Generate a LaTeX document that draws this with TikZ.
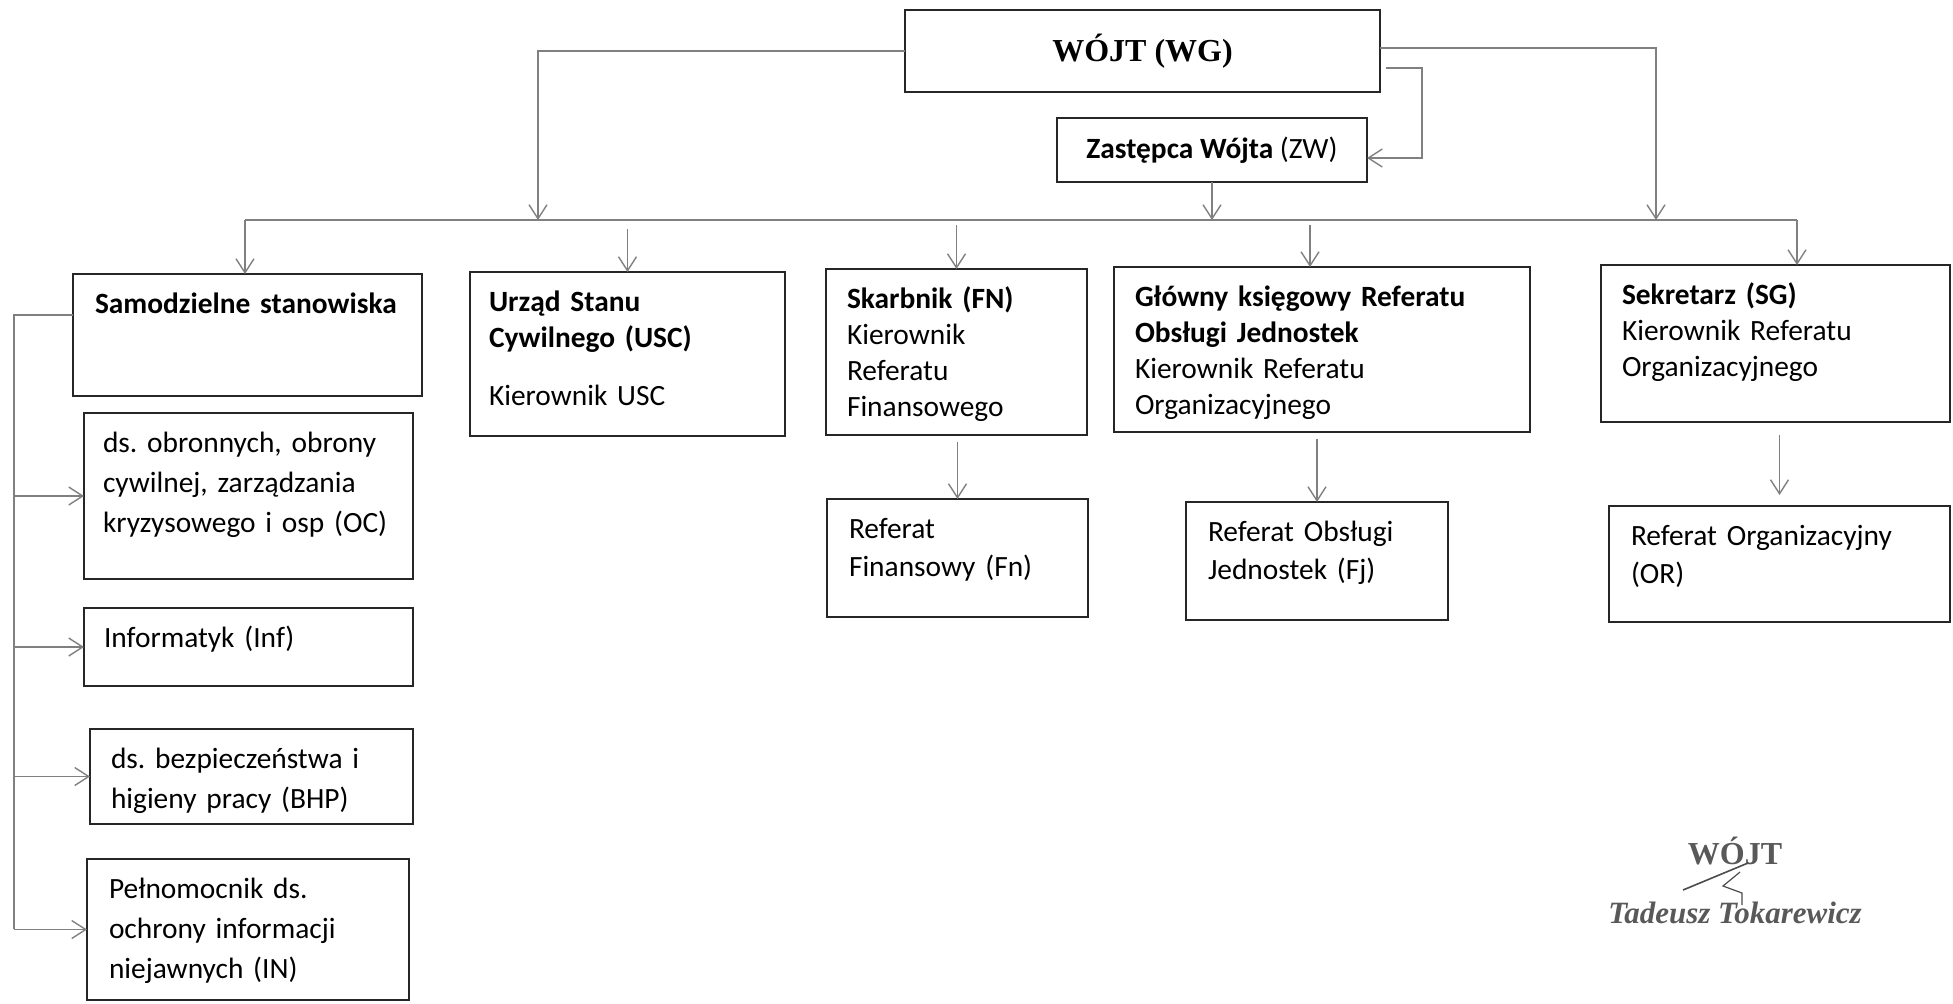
\documentclass[tikz,border=0pt]{standalone}
\usepackage{fontspec}
\setmainfont{Carlito}
\newfontfamily\serifbf{Liberation Serif}
\usetikzlibrary{arrows.meta, calc}

\begin{document}
\begin{tikzpicture}[
    x=0.5pt, y=-0.5pt, % grid of the scan, y pointing down
    % Styles
    head/.style={ % top boxes, text centred
        draw=black!85,
        line width=1.2pt,
        outer sep=0pt
    },
    unit/.style={ % org unit, text in the top left corner
        draw=black!85,
        line width=1.2pt,
        outer sep=0pt,
        anchor=north west,
        align=left,
        inner ysep=0pt,
        text height=19.5pt,
        font=\fontsize{14.7}{19}\selectfont
    },
    tight/.style={font=\fontsize{14.7}{18}\selectfont},
    loose/.style={font=\fontsize{14.7}{20}\selectfont},
    wire/.style={
        draw=black!50,
        line width=0.7pt
    },
    link/.style={ % open arrow
        wire,
        -{Straight Barb[length=7pt, width=9pt]}
    },
    sig/.style={
        text=black!65
    }
]
    \useasboundingbox (0,0) rectangle (1953,1003);

    % Head office
    \node[head, minimum width=237.5pt, minimum height=41pt, font=\serifbf\bfseries\fontsize{16}{19}\selectfont] (wg) at (1142.5,51) {\raisebox{2pt}{WÓJT (WG)}};
    \node[head, minimum width=155pt, minimum height=32pt, font=\fontsize{14.7}{18}\selectfont] (zw) at (1212,150) {\textbf{Zastępca Wójta} (ZW)};

    % Second row
    \node[unit, text width=152.5pt, inner xsep=11pt, text depth=41.5pt] (sam) at (73,274) {\textbf{Samodzielne~stanowiska}};
    \node[unit, tight, text width=138.5pt, inner xsep=9.5pt, text depth=62.5pt] (usc) at (470,272) {\textbf{Urząd Stanu}\\\textbf{Cywilnego (USC)}\\[11pt]Kierownik USC};
    \node[unit, tight, text width=109.5pt, inner xsep=10.5pt, text depth=63.5pt] (fn) at (826,269) {\textbf{Skarbnik (FN)}\\Kierownik\\Referatu\\Finansowego};
    \node[unit, tight, text width=187pt, inner xsep=10.5pt, text depth=63pt] (gk) at (1114,267) {\textbf{Główny~księgowy~Referatu}\\\textbf{Obsługi Jednostek}\\Kierownik Referatu\\Organizacyjnego};
    \node[unit, tight, text width=153.5pt, inner xsep=10.5pt, text depth=59pt] (sg) at (1601,265) {\textbf{Sekretarz (SG)}\\Kierownik Referatu\\Organizacyjnego};

    % Referaty
    \node[unit, text width=108.5pt, inner xsep=11pt, text depth=39.5pt] (fnref) at (827,499) {Referat\\Finansowy~(Fn)};
    \node[unit, text width=109pt, inner xsep=11pt, text depth=39.5pt] (fjref) at (1186,502) {Referat~Obsługi\\Jednostek (Fj)};
    \node[unit, text width=148.5pt, inner xsep=11pt, text depth=38.5pt] (orref) at (1609,506) {Referat~Organizacyjny\\(OR)};

    % Samodzielne stanowiska
    \node[unit, loose, text width=145.5pt, inner xsep=9.5pt, text depth=63.5pt] (oc) at (84,413) {ds.~obronnych,~obrony\\cywilnej,~zarządzania\\kryzysowego~i~osp~(OC)};
    \node[unit, text width=144.5pt, inner xsep=10pt, text depth=19.5pt] (inf) at (84,608) {Informatyk (Inf)};
    \node[unit, loose, text width=140.5pt, inner xsep=10.5pt, text depth=28pt] (bhp) at (90,729) {ds.~bezpieczeństwa~i\\higieny~pracy~(BHP)};
    \node[unit, loose, text width=139pt, inner xsep=11pt, text depth=51pt] (ion) at (87,859) {Pełnomocnik ds.\\ochrony~informacji\\niejawnych (IN)};

    % Bus points
    \coordinate (busL) at (245,220);
    \coordinate (busR) at (1797,220);
    \coordinate (inL) at (538,220);
    \coordinate (inR) at (1656,220);
    \coordinate (lbus) at (14,929);
    \coordinate (gkin) at ([xshift=-6pt]gk.north);

    % Head office to the bus
    \draw[wire] (busL) -- (busR);
    \draw[link] (wg.west) -| (inL);
    \draw[link] ([yshift=1.5pt]wg.east) -| (inR);
    \draw[link] ([xshift=3pt, yshift=-8.5pt]wg.east) -- ++(36,0) |- ([yshift=-4pt]zw.east);
    \draw[link] (zw.south) -- (zw.south |- busL);

    % Bus to the units
    \draw[link] (busL) -- (busL |- sam.north);
    \draw[link, shorten <=4.5pt] (usc.north |- busL) -- (usc.north);
    \draw[link, shorten <=2.5pt] (fn.north |- busL) -- (fn.north);
    \draw[link, shorten <=2.5pt] (gkin |- busL) -- (gkin);
    \draw[link] (busR) -- (busR |- sg.north);

    % Units to referaty
    \draw[link, shorten <=3.5pt] (fnref.north |- fn.south) -- (fnref.north);
    \draw[link, shorten <=3.5pt] (fjref.north |- gk.south) -- (fjref.north);
    \draw[link, shorten <=6.5pt, shorten >=5.5pt] (orref.north |- sg.south) -- (orref.north);

    % Samodzielne stanowiska
    \draw[wire] ([yshift=10pt]sam.west) -| (lbus);
    \foreach \n in {oc, inf, bhp, ion}
        \draw[link] (lbus |- \n.west) -- (\n.west);

    % Signature
    \node[sig, font=\serifbf\bfseries\fontsize{16}{19}\selectfont] (sigtitle) at (1735,851) {WÓJT};
    \node[sig, font=\serifbf\bfseries\itshape\fontsize{15.5}{18}\selectfont] (signame) at (1735,913) {Tadeusz Tokarewicz};
    \draw[black!70, line width=0.8pt] (1683,890) -- (1748,863);
    \draw[black!70, line width=0.6pt] (1740,872) -- (1723,886) -- (1742,893) -- (1742,905);
\end{tikzpicture}
\end{document}
